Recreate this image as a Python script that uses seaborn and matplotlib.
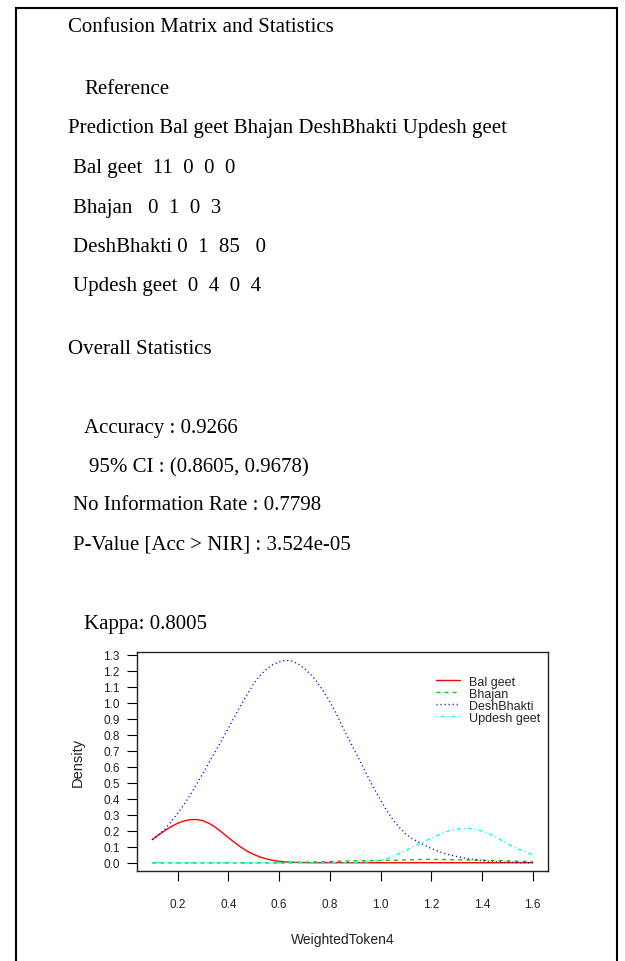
import matplotlib
matplotlib.use("Agg")
import numpy as np
import pandas as pd
import matplotlib.pyplot as plt
import seaborn as sns
from matplotlib.patches import Rectangle

# ---------------- data ----------------
classes = ["Bal geet", "Bhajan", "DeshBhakti", "Updesh geet"]
conf_rows = [[11, 0, 0, 0],
             [0, 1, 0, 3],
             [0, 1, 85, 0],
             [0, 4, 0, 4]]
accuracy = "0.9266"
ci_low, ci_high = "0.8605", "0.9678"
nir = "0.7798"
p_value = "3.524e-05"
kappa = "0.8005"

x_vals = [0.100, 0.125, 0.150, 0.175, 0.200, 0.225, 0.250, 0.275, 0.300, 0.325,
          0.350, 0.375, 0.400, 0.425, 0.450, 0.475, 0.500, 0.525, 0.550, 0.575,
          0.600, 0.625, 0.650, 0.675, 0.700, 0.725, 0.750, 0.775, 0.800, 0.825,
          0.850, 0.875, 0.900, 0.925, 0.950, 0.975, 1.000, 1.025, 1.050, 1.075,
          1.100, 1.125, 1.150, 1.175, 1.200, 1.225, 1.250, 1.275, 1.300, 1.325,
          1.350, 1.375, 1.400, 1.425, 1.450, 1.475, 1.500, 1.525, 1.550, 1.575,
          1.600]
bal_geet = [0.145, 0.175, 0.202, 0.227, 0.247, 0.262, 0.270, 0.271, 0.264, 0.246,
            0.222, 0.191, 0.158, 0.127, 0.098, 0.073, 0.053, 0.037, 0.025, 0.016,
            0.010, 0.006, 0.004, 0.003, 0.002, 0.001, 0.001, 0.001, 0.001, 0.001,
            0.001, 0.001, 0.001, 0.001, 0.001, 0.001, 0.001, 0.001, 0.001, 0.001,
            0.001, 0.001, 0.001, 0.001, 0.001, 0.001, 0.001, 0.001, 0.001, 0.001,
            0.001, 0.001, 0.001, 0.001, 0.001, 0.001, 0.001, 0.001, 0.001, 0.001,
            0.001]
bhajan = [0.0, 0.0, 0.0, 0.0, 0.0, 0.0, 0.0, 0.0, 0.0, 0.0,
          0.0, 0.0, 0.0, 0.0, 0.0, 0.0, 0.0, 0.0, 0.0, 0.0,
          0.0, 0.0, 0.001, 0.002, 0.004, 0.005, 0.006, 0.007, 0.008, 0.0095,
          0.011, 0.012, 0.013, 0.0135, 0.014, 0.0145, 0.015, 0.0155, 0.016, 0.017,
          0.018, 0.0195, 0.021, 0.0215, 0.022, 0.0215, 0.021, 0.020, 0.019, 0.0185,
          0.018, 0.0175, 0.017, 0.016, 0.015, 0.0135, 0.012, 0.011, 0.010, 0.009,
          0.008]
deshbhakti = [0.145, 0.175, 0.211, 0.258, 0.309, 0.365, 0.425, 0.492, 0.560, 0.630,
              0.700, 0.769, 0.840, 0.915, 0.987, 1.054, 1.120, 1.172, 1.210, 1.239,
              1.256, 1.266, 1.262, 1.244, 1.215, 1.177, 1.130, 1.072, 1.007, 0.935,
              0.850, 0.772, 0.695, 0.617, 0.539, 0.462, 0.393, 0.326, 0.267, 0.220,
              0.180, 0.151, 0.130, 0.109, 0.090, 0.074, 0.060, 0.049, 0.040, 0.032,
              0.025, 0.019, 0.014, 0.010, 0.007, 0.005, 0.004, 0.003, 0.002, 0.0015,
              0.001]
updesh_geet = [0.0, 0.0, 0.0, 0.0, 0.0, 0.0, 0.0, 0.0, 0.0, 0.0,
               0.0, 0.0, 0.0, 0.0, 0.0, 0.0, 0.0, 0.0, 0.0, 0.0,
               0.0, 0.0, 0.0, 0.0, 0.0, 0.0, 0.0, 0.0, 0.0, 0.0,
               0.0, 0.001, 0.002, 0.004, 0.006, 0.010, 0.016, 0.027, 0.042, 0.059,
               0.078, 0.098, 0.117, 0.136, 0.153, 0.172, 0.189, 0.203, 0.211, 0.216,
               0.215, 0.209, 0.199, 0.185, 0.165, 0.143, 0.120, 0.100, 0.082, 0.066,
               0.052]

x_ticks = [0.2, 0.4, 0.6, 0.8, 1.0, 1.2, 1.4, 1.6]
y_ticks = [0.0, 0.1, 0.2, 0.3, 0.4, 0.5, 0.6, 0.7, 0.8, 0.9, 1.0, 1.1, 1.2, 1.3]

series = {"Bal geet": bal_geet, "Bhajan": bhajan,
          "DeshBhakti": deshbhakti, "Updesh geet": updesh_geet}
df = pd.concat([pd.DataFrame({"WeightedToken4": x_vals, "Density": v, "cls": k})
                for k, v in series.items()], ignore_index=True)

# ---------------- style ----------------
sns.set_style("ticks")
plt.rcParams['font.family'] = ['Liberation Sans', 'DejaVu Sans']
plt.rcParams['lines.scale_dashes'] = False

W, H = 625, 962
fig = plt.figure(figsize=(W / 100, H / 100), dpi=100)
fig.patch.set_facecolor("white")

serif = ['Liberation Serif', 'DejaVu Serif']


def ftext(px, py, s):
    fig.text(px / W, 1 - (py + 2) / H, s, family=serif, fontsize=15,
             ha='left', va='center', color='black')


# outer frame
fig.add_artist(Rectangle((16 / W, -0.05), (617 - 16) / W, 1.05 - 9 / H,
                         transform=fig.transFigure, fill=False,
                         lw=1.5, ec='black', clip_on=False))

seps = [["  ", "  ", "  ", "  "],
        ["   ", "  ", "  ", "  "],
        [" ", "  ", "  ", "   "],
        ["  ", "  ", "  ", "  "]]
ftext(68, 25, "Confusion Matrix and Statistics")
ftext(84, 88, "Reference")
ftext(68, 127, "Prediction " + " ".join(classes))
row_y = [167, 206, 245, 284]
for name, row, sp, yy in zip(classes, conf_rows, seps, row_y):
    s = name + "".join(f"{a}{b}" for a, b in zip(sp, row))
    ftext(73, yy, s)
ftext(68, 347, "Overall Statistics")
ftext(84, 427, f"Accuracy : {accuracy}")
ftext(89, 466, f"95% CI : ({ci_low}, {ci_high})")
ftext(73, 504, f"No Information Rate : {nir}")
ftext(73, 543, f"P-Value [Acc > NIR] : {p_value}")
ftext(84, 623, f"Kappa: {kappa}")

# ---------------- density plot ----------------
ax_l, ax_r, ax_t, ax_b = 137, 548, 653, 872
ax = fig.add_axes([ax_l / W, 1 - ax_b / H, (ax_r - ax_l) / W, (ax_b - ax_t) / H])

styles = {"Bal geet": ("#FF0000", "-"),
          "Bhajan": ("#00CD00", (0, (2.9, 2.9))),
          "DeshBhakti": ("#0000FF", (0, (0.8, 2.1))),
          "Updesh geet": ("#00FFFF", (0, (0.8, 2.1, 2.9, 2.1)))}
for cls in classes:
    col, ls = styles[cls]
    sns.lineplot(data=df[df.cls == cls], x="WeightedToken4", y="Density",
                 color=col, linestyle=ls, lw=1.0, ax=ax, label=cls,
                 estimator=None, sort=False)

ax.set_xlim(0.04, 1.66)
ax.set_ylim(-0.0507, 1.318)
ax.set_xticks(x_ticks)
ax.set_xticklabels([f"{t:.1f}" for t in x_ticks])
ax.set_yticks(y_ticks)
ax.set_yticklabels([f"{t:.1f}" for t in y_ticks])
ax.tick_params(axis='both', direction='out', length=7, width=0.8,
               labelsize=8.5, colors='black', labelcolor='#222222')
ax.tick_params(axis='x', pad=12.5)
ax.tick_params(axis='y', pad=5.5)
for sp in ax.spines.values():
    sp.set_visible(True)
    sp.set_color('#222222')
    sp.set_linewidth(1.0)

ax.set_xlabel("WeightedToken4", fontsize=10, va='center', color='#222222')
ax.xaxis.set_label_coords(0.5, -(940 - ax_b) / (ax_b - ax_t))
ax.set_ylabel("Density", fontsize=10.5, va='center', color='#222222')
ax.yaxis.set_label_coords(-(ax_l - 78) / (ax_r - ax_l), 0.5)

ax.legend(loc='upper left', bbox_to_anchor=(0.7275, 0.892), frameon=False,
          fontsize=9, handlelength=1.92, handletextpad=0.72,
          labelspacing=0.0, borderpad=0, borderaxespad=0)

fig.savefig("out.png", dpi=100, facecolor="white")
